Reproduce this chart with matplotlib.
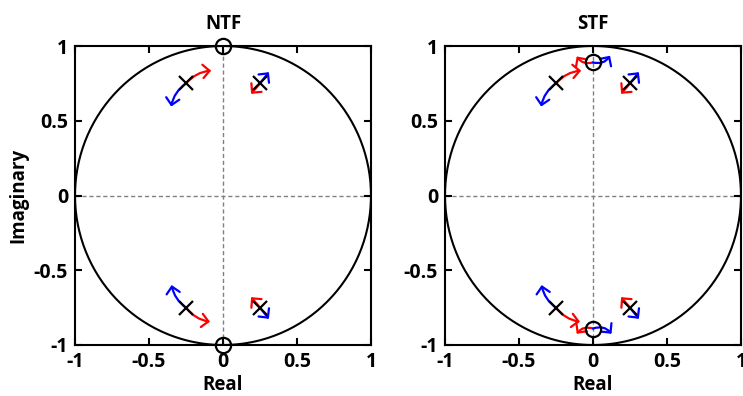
import matplotlib.pyplot as plt
import numpy as np
from matplotlib.patches import FancyArrowPatch

plt.rcParams['font.family'] = ['Open Sans', 'DejaVu Sans']
plt.rcParams['font.weight'] = 'bold'

titles = ['NTF', 'STF']
ticks = [-1, -0.5, 0, 0.5, 1]
tick_labels = ['-1', '-0.5', '0', '0.5', '1']

# poles (same for both), zeros per plot
pole_re = [-0.25, 0.25, -0.25, 0.25]
pole_im = [0.75, 0.75, -0.75, -0.75]
zero_re = [[0, 0], [0, 0]]
zero_im = [[1, -1], [0.89, -0.89]]

# arrows: start, end, colour, curvature
arrow_start = [(-0.25, 0.75), (-0.25, 0.75), (0.25, 0.75), (0.25, 0.75),
               (-0.25, -0.75), (-0.25, -0.75), (0.25, -0.75), (0.25, -0.75)]
arrow_end = [(-0.08, 0.835), (-0.35, 0.595), (0.31, 0.825), (0.19, 0.68),
             (-0.088, -0.844), (-0.347, -0.599), (0.19, -0.68), (0.31, -0.825)]
arrow_color = ['red', 'blue', 'blue', 'red', 'red', 'blue', 'red', 'blue']
arrow_rad = [-0.2, 0.2, 0, 0, 0.2, -0.2, 0, 0]

# extra arrows on the STF zeros
zarrow_start = [(0, 0.89), (0, 0.89), (0, -0.89), (0, -0.89)]
zarrow_end = [(-0.11, 0.93), (0.115, 0.935), (-0.11, -0.925), (0.125, -0.925)]
zarrow_color = ['red', 'blue', 'red', 'blue']
zarrow_rad = [-0.35, 0.35, 0.35, -0.35]

fig = plt.figure(figsize=(7.43, 3.96), dpi=100)
ax1 = fig.add_axes([75/743, 51/396, 296/743, 299/396])
ax2 = fig.add_axes([445/743, 51/396, 296/743, 299/396])

def draw_arrow(ax, a, b, c, r):
  p = FancyArrowPatch(a, b, arrowstyle='->,head_length=0.4,head_width=0.4',
                      connectionstyle='arc3,rad=%g' % r, color=c,
                      lw=1.6, mutation_scale=12, shrinkA=0, shrinkB=0, zorder=3)
  ax.add_patch(p)

t = np.linspace(0, 2*np.pi, 400)
for k, ax in enumerate([ax1, ax2]):
  ax.plot(np.cos(t), np.sin(t), color='black', lw=1.5, zorder=2)
  ax.axhline(0, color='#808080', lw=1, ls=(0, (3, 2)), zorder=1)
  ax.axvline(0, color='#808080', lw=1, ls=(0, (3, 2)), zorder=1)
  for i in range(len(arrow_start)):
    draw_arrow(ax, arrow_start[i], arrow_end[i], arrow_color[i], arrow_rad[i])
  if k == 1:
    for i in range(len(zarrow_start)):
      draw_arrow(ax, zarrow_start[i], zarrow_end[i], zarrow_color[i], zarrow_rad[i])
  ax.plot(pole_re, pole_im, 'x', color='black', ms=9.5, mew=1.6, zorder=4)
  ax.plot(zero_re[k], zero_im[k], 'o', mfc='none', mec='black', ms=11, mew=1.6,
          zorder=4, clip_on=False)
  ax.set_xlim(-1, 1)
  ax.set_ylim(-1, 1)
  ax.set_xticks(ticks)
  ax.set_xticklabels(tick_labels)
  ax.set_yticks(ticks)
  ax.set_yticklabels(tick_labels)
  ax.tick_params(direction='in', length=5, width=1.5, top=True, right=True,
                 labelsize=14, pad=5)
  for s in ax.spines.values():
    s.set_linewidth(1.5)
  ax.set_title(titles[k], fontsize=13.5, fontweight='bold', pad=12)
  ax.set_xlabel('Real', fontsize=13.5, fontweight='bold', labelpad=2)

ax1.set_ylabel('Imaginary', fontsize=13.5, fontweight='bold', labelpad=4)

fig.savefig('out.png', dpi=100)
